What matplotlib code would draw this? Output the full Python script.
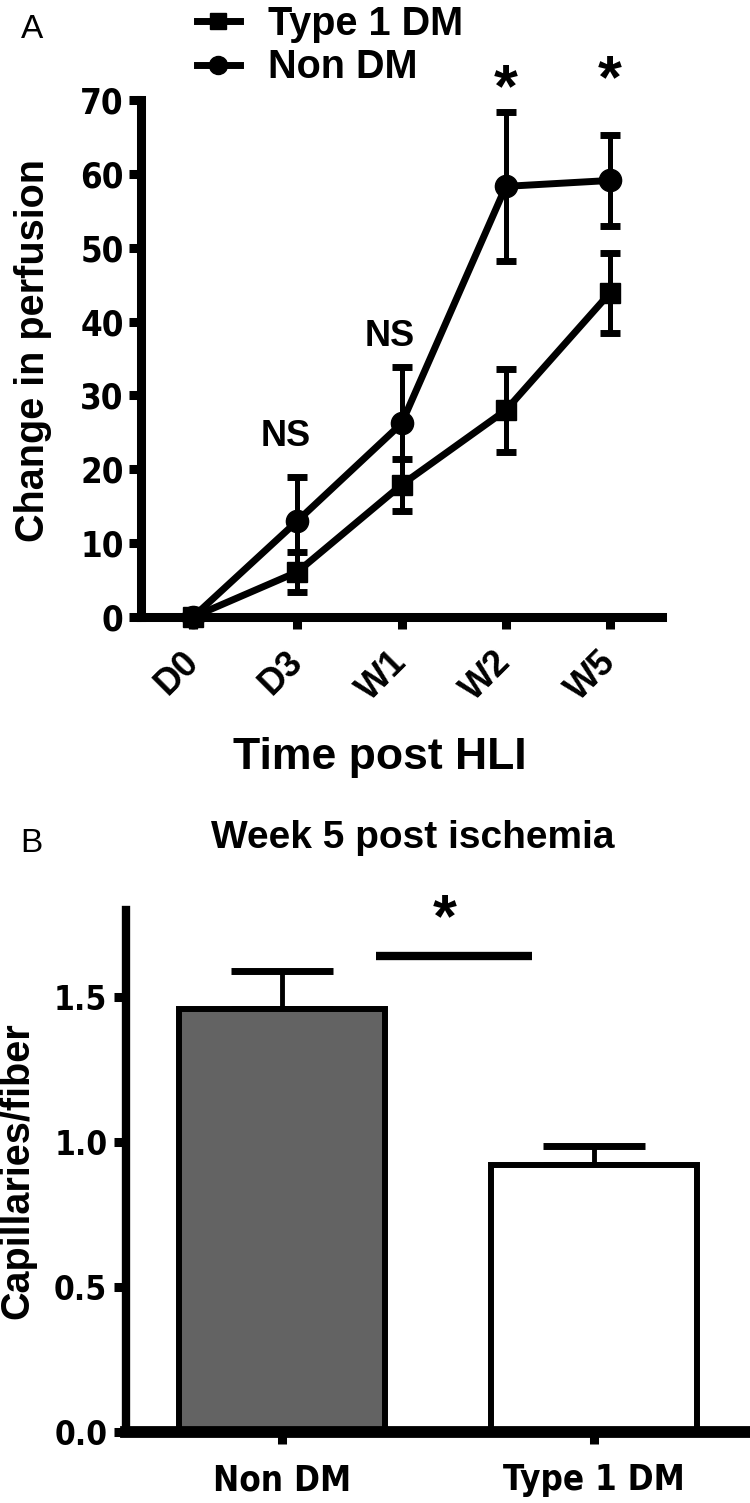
import numpy as np
import matplotlib.pyplot as plt
from matplotlib import font_manager
from matplotlib.lines import Line2D

# fonts: Arial-like bold for labels, a narrow bold for the numbers if one exists
arial = ['Liberation Sans', 'DejaVu Sans']
names = {f.name for f in font_manager.fontManager.ttflist}
narrow_stretch = 'normal'
if 'Liberation Sans Narrow' in names:
    narrow = ['Liberation Sans Narrow', 'Liberation Sans']
else:
    narrow = arial
    cond = [f for f in font_manager.fontManager.ttflist
            if f.name == 'DejaVu Sans' and 'ondensed' in str(f.stretch) + f.fname]
    if cond:
        narrow = ['DejaVu Sans']
        narrow_stretch = 'condensed'
plt.rcParams['font.family'] = arial
plt.rcParams['font.weight'] = 'bold'

# Panel A: change in perfusion after hind limb ischemia
timepoints = ['D0', 'D3', 'W1', 'W2', 'W5']
t1dm_mean = [0, 6.1, 17.9, 28.0, 43.9]
t1dm_sem = [0, 2.7, 3.5, 5.6, 5.4]
nondm_mean = [0, 13.0, 26.2, 58.3, 59.1]
nondm_sem = [0, 5.9, 7.6, 10.1, 6.1]
sig_text = ['', 'NS', 'NS', '*', '*']
sig_y = [0, 24.5, 38.0, 71.2, 72.5]

# Panel B: capillary density at week 5
groups = ['Non DM', 'Type 1 DM']
cap_mean = [1.46, 0.92]
cap_sem = [0.13, 0.065]
bar_colors = ['#636363', 'white']

fig = plt.figure(figsize=(7.5, 15.03), dpi=100)

# ---------------- panel A ----------------
ax1 = fig.add_axes([0.188, 0.5895, 0.695, 0.344])
x = np.arange(len(timepoints))

ax1.errorbar(x, t1dm_mean, yerr=t1dm_sem, color='black', lw=5,
             marker='s', ms=14, elinewidth=3.6, capsize=7.2, capthick=5,
             zorder=4, clip_on=False)
ax1.errorbar(x, nondm_mean, yerr=nondm_sem, color='black', lw=5,
             marker='o', ms=16, elinewidth=3.6, capsize=7.2, capthick=5,
             zorder=3, clip_on=False)

for i, s in enumerate(sig_text):
    if s == 'NS':
        ax1.text(x[i] - 0.11, sig_y[i], s, ha='center', va='center',
                 fontsize=26, clip_on=False)
    elif s == '*':
        ax1.text(x[i], sig_y[i], s, ha='center', va='center',
                 fontsize=44, clip_on=False)

ax1.set_xlim(-0.5, 4.5)
ax1.set_ylim(0, 70)
ax1.set_yticks(np.arange(0, 71, 10))
ax1.set_xticks(x)
ax1.set_xticklabels(timepoints, rotation=45, ha='right', va='center',
                    rotation_mode='anchor', fontsize=26, family=arial)
for lab in ax1.get_yticklabels():
    lab.set_family(narrow)
    lab.set_fontstretch(narrow_stretch)
    lab.set_fontsize(25)
ax1.spines['top'].set_visible(False)
ax1.spines['right'].set_visible(False)
for sp in ['left', 'bottom']:
    ax1.spines[sp].set_linewidth(6.5)
ax1.tick_params(axis='both', length=8.5, width=6.5, direction='out')
ax1.tick_params(axis='y', pad=4)
ax1.tick_params(axis='x', pad=20)

h_t1 = Line2D([], [], color='black', lw=5, marker='s', ms=12)
h_non = Line2D([], [], color='black', lw=5, marker='o', ms=13)
fig.legend([h_t1, h_non], ['Type 1 DM', 'Non DM'], loc='upper left',
           bbox_to_anchor=(0.262, 0.997), frameon=False,
           handlelength=1.1, handletextpad=0.7, labelspacing=0.15,
           borderpad=0, borderaxespad=0,
           prop={'family': arial, 'weight': 'bold', 'size': 28.5})

fig.text(380 / 750, 1 - 757 / 1503, 'Time post HLI', ha='center', va='center',
         fontsize=32)
fig.text(33 / 750, 1 - 350 / 1503, 'Change in perfusion', rotation=90,
         ha='center', va='center', fontsize=28.5)
fig.text(32 / 750, 1 - 30 / 1503, 'A', ha='center', va='center',
         fontsize=24, weight='normal')

# ---------------- panel B ----------------
ax2 = fig.add_axes([0.168, 0.0472, 0.832, 0.3473])
xb = np.arange(len(groups))
ax2.bar(xb, cap_mean, width=0.66, color=bar_colors, edgecolor='black',
        linewidth=4.3, zorder=2)
ax2.errorbar(xb, cap_mean, yerr=[np.zeros(len(cap_sem)), cap_sem], fmt='none',
             ecolor='black', elinewidth=3.5, capsize=37, capthick=5, zorder=1)

# significance bar between the two groups
sig_bar_y = cap_mean[0] + cap_sem[0] + 0.05
ax2.plot([0.3, 0.8], [sig_bar_y, sig_bar_y], color='black', lw=6,
         solid_capstyle='butt', clip_on=False)
ax2.text(0.52, sig_bar_y + 0.125, '*', ha='center', va='center', fontsize=44,
         clip_on=False)

ax2.set_xlim(-0.5, 1.5)
ax2.set_ylim(0, 1.8)
ax2.set_yticks([0, 0.5, 1.0, 1.5])
ax2.set_yticklabels(['0.0', '0.5', '1.0', '1.5'], family=narrow,
                    fontstretch=narrow_stretch, fontsize=24)
ax2.set_xticks(xb)
ax2.set_xticklabels(groups, family=narrow, fontstretch=narrow_stretch,
                    fontsize=25)
ax2.spines['top'].set_visible(False)
ax2.spines['right'].set_visible(False)
ax2.spines['left'].set_linewidth(6)
ax2.spines['bottom'].set_linewidth(8.5)
ax2.tick_params(axis='both', length=8.5, width=6.5, direction='out')
ax2.tick_params(axis='y', pad=5)
ax2.tick_params(axis='x', pad=14)

fig.text(413 / 750, 1 - 838 / 1503, 'Week 5 post ischemia', ha='center',
         va='center', fontsize=28)
fig.text(17 / 750, 1 - 1171 / 1503, 'Capillaries/fiber', rotation=90,
         ha='center', va='center', fontsize=28.5)
fig.text(31 / 750, 1 - 843 / 1503, 'B', ha='center', va='center',
         fontsize=24, weight='normal')

fig.savefig('out.png', dpi=100, facecolor='white')
